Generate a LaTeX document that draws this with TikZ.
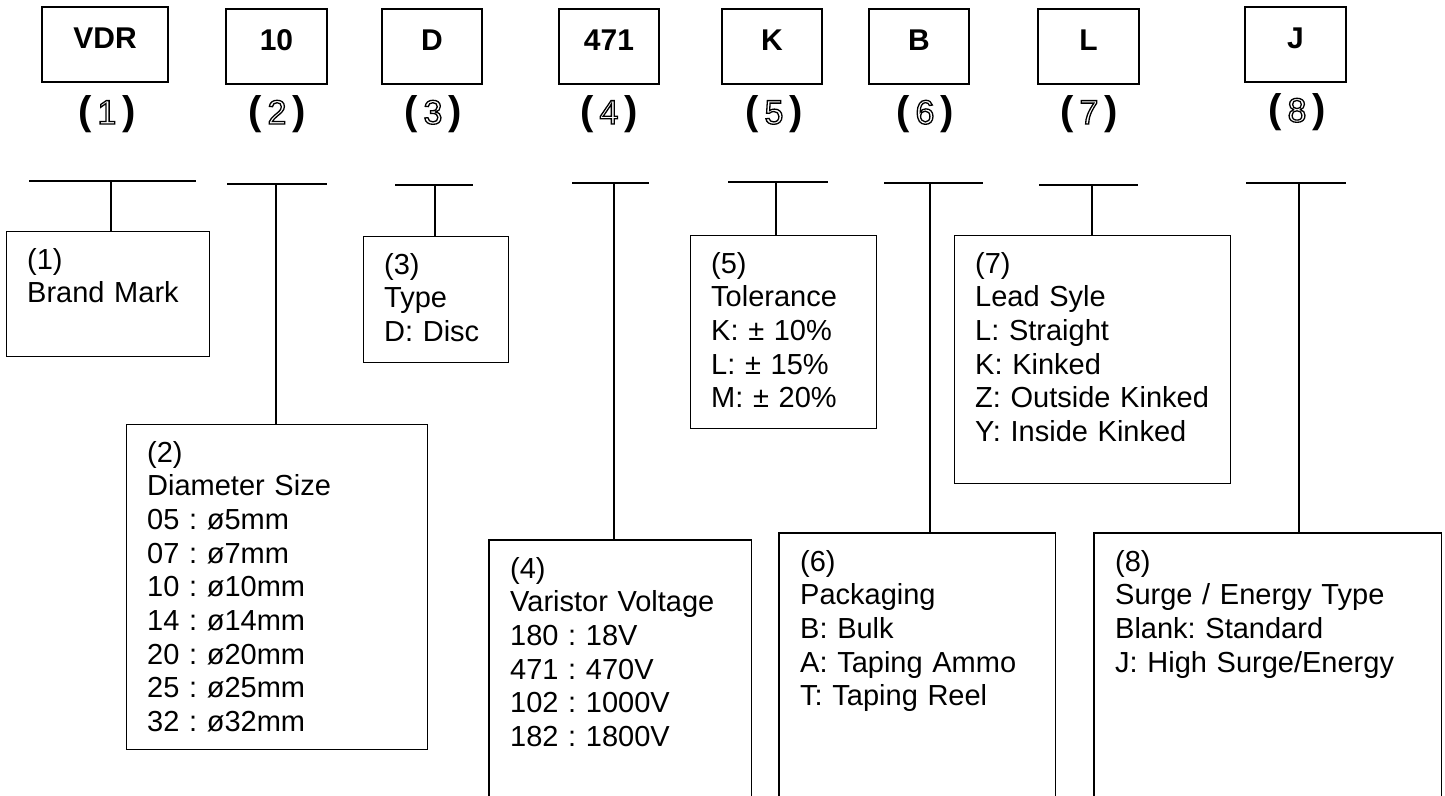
\documentclass[tikz,border=0pt]{standalone}
\usepackage{fontspec}
\setmainfont{Liberation Sans}
\frenchspacing
\newcommand{\hollowdigit}[1]{\special{pdf:literal direct 1 Tr 1.3 w}#1\special{pdf:literal direct 0 Tr}}
\newcommand{\numlab}[1]{{\fontsize{40}{44}\selectfont\bfseries(}\hspace{6pt}{\fontsize{34}{40}\selectfont\hollowdigit{#1}}\hspace{6pt}{\fontsize{40}{44}\selectfont\bfseries)}}
\tikzset{
  codebox/.style={draw, line width=1.4pt, inner sep=0pt},
  codetext/.style={anchor=base, inner sep=0pt, font=\fontsize{30}{36}\selectfont\bfseries},
  numlabel/.style={anchor=base, inner sep=0pt},
  descbox/.style={draw, line width=1.4pt, inner sep=0pt, anchor=north west},
  openbox/.style={draw=none, inner sep=0pt, anchor=north west},
  opensides/.style={line width=1.4pt},
  desctext/.style={anchor=base west, inner sep=0pt, align=left, text width=330pt, font=\fontsize{29}{33.7}\selectfont},
  conn/.style={line width=1.4pt},
}
\begin{document}
\begin{tikzpicture}[x=1pt,y=-1pt]
\useasboundingbox (0,0) rectangle (1445,795);
\fill[white] (0,0) rectangle (1445,795);

% code boxes
\node[codebox, minimum width=126, minimum height=75] (c1) at (105,44.5) {};
\node[codebox, minimum width=101, minimum height=75] (c2) at (276.5,46.5) {};
\node[codebox, minimum width=100, minimum height=75] (c3) at (432,46.5) {};
\node[codebox, minimum width=100, minimum height=75] (c4) at (609,46.5) {};
\node[codebox, minimum width=100, minimum height=75] (c5) at (772,46.5) {};
\node[codebox, minimum width=100, minimum height=75] (c6) at (919,46.5) {};
\node[codebox, minimum width=101, minimum height=75] (c7) at (1088.5,46.5) {};
\node[codebox, minimum width=101, minimum height=75] (c8) at (1295.5,44.5) {};

\node[codetext] (c1t) at (105,48) {VDR};
\node[codetext] (c2t) at (276.5,50) {10};
\node[codetext] (c3t) at (432,50) {D};
\node[codetext] (c4t) at (609,50) {471};
\node[codetext] (c5t) at (772,50) {K};
\node[codetext] (c6t) at (919,50) {B};
\node[codetext] (c7t) at (1088.5,50) {L};
\node[codetext] (c8t) at (1295.5,48) {J};

% number labels
\node[numlabel] (n1) at (107,124) {\numlab{1}};
\node[numlabel] (n2) at (277,124) {\numlab{2}};
\node[numlabel] (n3) at (433,124) {\numlab{3}};
\node[numlabel] (n4) at (609,124) {\numlab{4}};
\node[numlabel] (n5) at (774,124) {\numlab{5}};
\node[numlabel] (n6) at (925,124) {\numlab{6}};
\node[numlabel] (n7) at (1089,124) {\numlab{7}};
\node[numlabel] (n8) at (1297,122) {\numlab{8}};

% description boxes
\node[descbox, minimum width=203, minimum height=125] (d1) at (6,231) {};
\node[descbox, minimum width=301, minimum height=325] (d2) at (126,424) {};
\node[descbox, minimum width=145, minimum height=126] (d3) at (363,236) {};
\node[openbox, minimum width=262, minimum height=257] (d4) at (489,540) {};
\node[descbox, minimum width=186, minimum height=193] (d5) at (690,235) {};
\node[openbox, minimum width=276, minimum height=264] (d6) at (779,533) {};
\node[descbox, minimum width=276, minimum height=248] (d7) at (954,235) {};
\node[openbox, minimum width=347, minimum height=264] (d8) at (1094,533) {};
\draw[opensides] (d4.south west) -- (d4.north west) -- (d4.north east) -- (d4.south east);
\draw[opensides] (d6.south west) -- (d6.north west) -- (d6.north east) -- (d6.south east);
\draw[opensides] (d8.south west) -- (d8.north west) -- (d8.north east) -- (d8.south east);

% description texts
\node[desctext] (d1t) at (27,269) {(1)\\Brand Mark};
\node[desctext] (d2t) at (147,462) {(2)\\Diameter Size\\05 : ø5mm\\07 : ø7mm\\10 : ø10mm\\14 : ø14mm\\20 : ø20mm\\25 : ø25mm\\32 : ø32mm};
\node[desctext] (d3t) at (384,274) {(3)\\Type\\D: Disc};
\node[desctext] (d4t) at (510,578) {(4)\\Varistor Voltage\\180 : 18V\\471 : 470V\\102 : 1000V\\182 : 1800V};
\node[desctext] (d5t) at (711,273) {(5)\\Tolerance\\K: ± 10\%\\L: ± 15\%\\M: ± 20\%};
\node[desctext] (d6t) at (800,571) {(6)\\Packaging\\B: Bulk\\A: Taping Ammo\\T: Taping Reel};
\node[desctext] (d7t) at (975,273) {(7)\\Lead Syle\\L: Straight\\K: Kinked\\Z: Outside Kinked\\Y: Inside Kinked};
\node[desctext] (d8t) at (1115,571) {(8)\\Surge / Energy Type\\Blank: Standard\\J: High Surge/Energy};

% T connectors
\coordinate (b1l) at (29,181);   \coordinate (b1r) at (196,181);  \coordinate (t1) at (111,181);
\coordinate (b2l) at (227,184);  \coordinate (b2r) at (327,184);  \coordinate (t2) at (276,184);
\coordinate (b3l) at (395,185);  \coordinate (b3r) at (473,185);  \coordinate (t3) at (435,185);
\coordinate (b4l) at (572,183);  \coordinate (b4r) at (649,183);  \coordinate (t4) at (614,183);
\coordinate (b5l) at (728,182);  \coordinate (b5r) at (828,182);  \coordinate (t5) at (776,182);
\coordinate (b6l) at (884,183);  \coordinate (b6r) at (983,183);  \coordinate (t6) at (930,183);
\coordinate (b7l) at (1039,185); \coordinate (b7r) at (1138,185); \coordinate (t7) at (1092,185);
\coordinate (b8l) at (1246,183); \coordinate (b8r) at (1346,183); \coordinate (t8) at (1299,183);
\foreach \i in {1,...,8} {
  \draw[conn] (b\i l) -- (b\i r);
  \draw[conn] (t\i) -- (t\i |- d\i.north);
}
\end{tikzpicture}
\end{document}
